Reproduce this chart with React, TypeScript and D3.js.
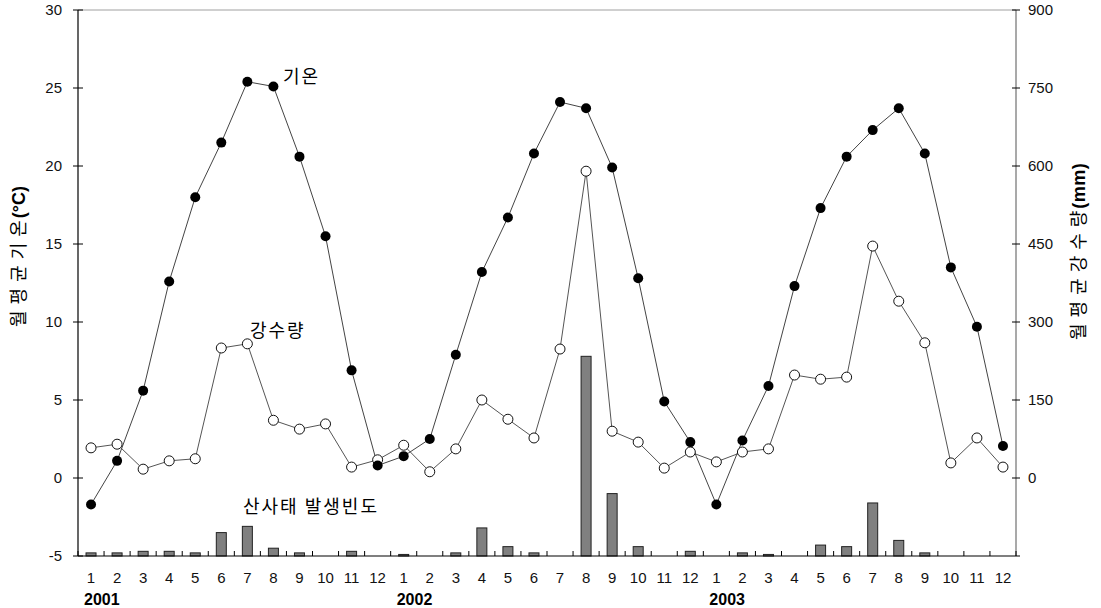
import * as d3 from "d3";

const years = ["2001", "2002", "2003"];
const monthLabels = ["1", "2", "3", "4", "5", "6", "7", "8", "9", "10", "11", "12"];

// monthly mean temperature (°C)
const temperature = [
  -1.7, 1.1, 5.6, 12.6, 18.0, 21.5, 25.4, 25.1, 20.6, 15.5, 6.9, 0.8,
  1.4, 2.5, 7.9, 13.2, 16.7, 20.8, 24.1, 23.7, 19.9, 12.8, 4.9, 2.3,
  -1.7, 2.4, 5.9, 12.3, 17.3, 20.6, 22.3, 23.7, 20.8, 13.5, 9.7, 2.05,
];

// monthly mean precipitation (mm)
const precipitation = [
  58, 65, 17, 33, 37, 250, 258, 111, 94, 104, 21, 35,
  63, 12, 56, 150, 113, 77, 248, 590, 90, 69, 19, 50,
  31, 50, 56, 198, 190, 194, 446, 340, 260, 29, 77, 21,
];

// landslide frequency
const landslides = [
  2, 2, 3, 3, 2, 15, 19, 5, 2, 0, 3, 0,
  1, 0, 2, 18, 6, 2, 0, 128, 40, 6, 0, 3,
  0, 2, 1, 0, 7, 6, 34, 10, 2, 0, 0, 0,
];

const leftTicks = [-5, 0, 5, 10, 15, 20, 25, 30];
const rightTicks = [0, 150, 300, 450, 600, 750, 900];

const W = 1101;
const H = 608;
const left = 78;
const right = 1016;
const top = 10;
const bottom = 556;

export default function App() {
  const idx = d3.range(36);
  const x = d3.scaleBand<number>().domain(idx).range([left, right]).padding(0);
  const cx = (i: number) => (x(i) as number) + x.bandwidth() / 2;
  const yT = d3.scaleLinear().domain([-5, 30]).range([bottom, top]);
  const yP = d3.scaleLinear().domain([-150, 900]).range([bottom, top]);
  const yF = d3.scaleLinear().domain([0, 350]).range([bottom, top]);

  const tLine = d3.line<number>().x((_, i) => cx(i)).y((d) => yT(d));
  const pLine = d3.line<number>().x((_, i) => cx(i)).y((d) => yP(d));

  const font = "Liberation Sans, Arial, sans-serif";
  const kfont = "Noto Sans CJK KR, sans-serif";
  const barW = 10;

  return (
    <svg width={W} height={H} style={{ position: "absolute", left: 0, top: 0, background: "#fff" }}>
      {/* frame */}
      <line x1={left} x2={right} y1={top} y2={top} stroke="#a0a0a0" strokeWidth={1} />
      <line x1={right} x2={right} y1={top} y2={bottom} stroke="#707070" strokeWidth={1.2} />

      {/* bars */}
      {landslides.map((d, i) =>
        d > 0 ? (
          <rect
            key={"b" + i}
            x={cx(i) - barW / 2}
            y={yF(d)}
            width={barW}
            height={bottom - yF(d)}
            fill="#808080"
            stroke="#222"
            strokeWidth={1}
          />
        ) : null
      )}

      {/* lines */}
      <path d={pLine(precipitation) || ""} fill="none" stroke="#555" strokeWidth={1} />
      <path d={tLine(temperature) || ""} fill="none" stroke="#444" strokeWidth={1} />
      {precipitation.map((d, i) => (
        <circle key={"p" + i} cx={cx(i)} cy={yP(d)} r={5} fill="#fff" stroke="#111" strokeWidth={1} />
      ))}
      {temperature.map((d, i) => (
        <circle key={"t" + i} cx={cx(i)} cy={yT(d)} r={5} fill="#000" />
      ))}

      {/* left axis */}
      <line x1={left} x2={left} y1={top} y2={bottom} stroke="#000" strokeWidth={1.2} />
      {leftTicks.map((t) => (
        <g key={"lt" + t}>
          <line x1={left - 5} x2={left + 5} y1={yT(t)} y2={yT(t)} stroke="#000" />
          <text x={62} y={yT(t)} dy="0.35em" textAnchor="end" fontFamily={font} fontSize={15} fill="#111">
            {t}
          </text>
        </g>
      ))}

      {/* right axis */}
      {rightTicks.map((t) => (
        <g key={"rt" + t}>
          <line x1={right - 4} x2={right + 4} y1={yP(t)} y2={yP(t)} stroke="#000" />
          <text x={1028} y={yP(t)} dy="0.35em" textAnchor="start" fontFamily={font} fontSize={15} fill="#111">
            {t}
          </text>
        </g>
      ))}

      {/* bottom axis */}
      <line x1={left} x2={right + 4} y1={bottom} y2={bottom} stroke="#000" strokeWidth={1.2} />
      {d3.range(37).map((i) => {
        const xx = i < 36 ? (x(i) as number) : right;
        return <line key={"xt" + i} x1={xx} x2={xx} y1={bottom} y2={bottom - 5} stroke="#000" />;
      })}
      {idx.map((i) => (
        <text key={"xl" + i} x={cx(i)} y={578} dy="0.35em" textAnchor="middle" fontFamily={font} fontSize={15} fill="#111">
          {monthLabels[i % 12]}
        </text>
      ))}
      {years.map((yr, k) => (
        <text
          key={yr}
          x={cx(k * 12) - 7}
          y={599}
          dy="0.35em"
          textAnchor="start"
          fontFamily={font}
          fontSize={16}
          fontWeight="bold"
          fill="#000"
        >
          {yr}
        </text>
      ))}

      {/* axis titles */}
      <text transform="translate(19,327) rotate(-90)" dy="0.35em" textAnchor="start" fontFamily={kfont} fontSize={18} letterSpacing={6} fill="#000">
        월평균기온<tspan fontFamily={font} fontWeight="bold" letterSpacing={0} dx={-4}>(°C)</tspan>
      </text>
      <text transform="translate(1079,340) rotate(-90)" dy="0.35em" textAnchor="start" fontFamily={kfont} fontSize={18} letterSpacing={6} fill="#000">
        월평균강수량<tspan fontFamily={font} fontWeight="bold" letterSpacing={0.5} dx={-4}>(mm)</tspan>
      </text>

      {/* series labels */}
      <text x={283} y={77} dy="0.35em" fontFamily={kfont} fontSize={18} letterSpacing={2} fill="#000">기온</text>
      <text x={250} y={331} dy="0.35em" fontFamily={kfont} fontSize={18} letterSpacing={2} fill="#000">강수량</text>
      <text x={243} y={507} dy="0.35em" fontFamily={kfont} fontSize={18} letterSpacing={2} fill="#000">산사태 발생빈도</text>
    </svg>
  );
}
